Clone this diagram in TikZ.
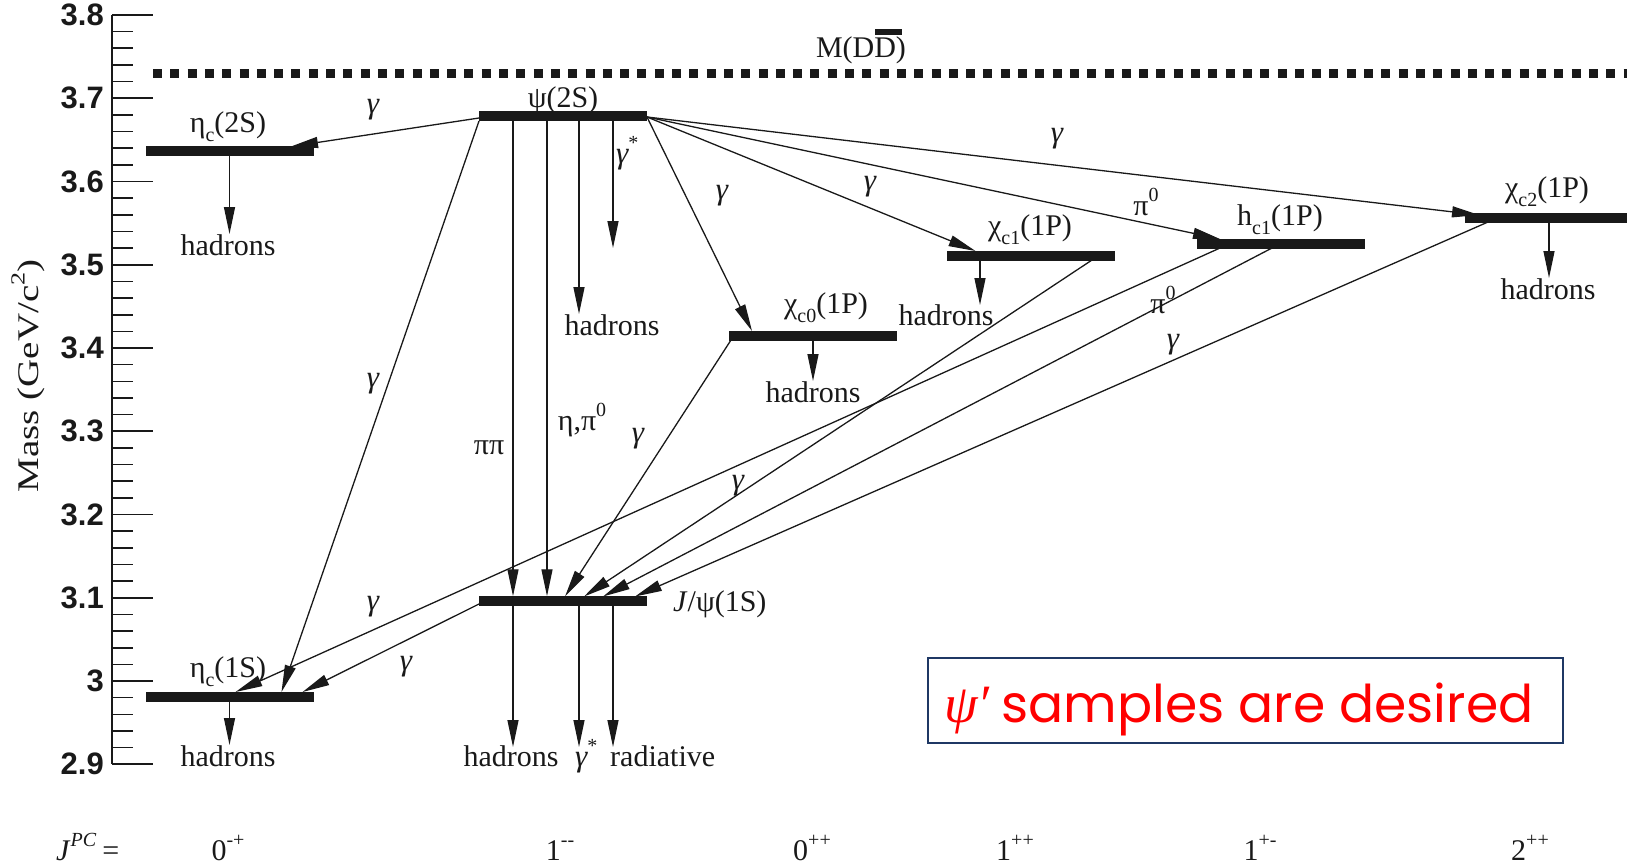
\documentclass[tikz,border=0pt]{standalone}
\usepackage{fontspec}
\usepackage{graphicx}
\setmainfont{Liberation Serif}
\newfontfamily\ticksf{Liberation Sans}
\newfontfamily\popf{Poppins}
\usetikzlibrary{arrows.meta}
\definecolor{boxblue}{RGB}{31,56,100}
\definecolor{ink}{RGB}{25,25,25}
\newcommand{\fs}[1]{\fontsize{#1}{#1}\selectfont}
\newcommand{\lsub}[1]{\raisebox{-0.3em}{\fs{20}#1}}
\newcommand{\lsup}[1]{\raisebox{0.45em}{\fs{20}#1}}
\begin{document}
\begin{tikzpicture}[x=1pt,y=-1pt,
  lvl/.style={fill=ink, inner sep=0pt, outer sep=0pt, minimum width=168pt, minimum height=9.5pt},
  conn/.style={line width=1.3pt, draw=ink, -{Triangle[length=27pt,width=11pt]}},
  lab/.style={inner sep=0pt, text=ink, font=\fs{30}},
  gl/.style={inner sep=0pt, text=ink, font=\fs{31}\itshape},
  ticklab/.style={inner sep=0pt, anchor=east, text=ink, font=\ticksf\bfseries\fs{31}},
  tickln/.style={line width=1.6pt, draw=ink}
]
\useasboundingbox (0,0) rectangle (1627,867);

% ---------- axis ----------
\draw[tickln] (112,15) -- (112,764.25);
\foreach \i in {0,...,45} {
  \pgfmathsetmacro{\yy}{15+\i*16.65}
  \pgfmathtruncatemacro{\mm}{mod(\i,5)}
  \ifnum\mm=0 \draw[tickln] (112,\yy) -- (153,\yy); \else \draw[tickln] (112,\yy) -- (133,\yy); \fi
}
\foreach \t [count=\k from 0] in {3.8,3.7,3.6,3.5,3.4,3.3,3.2,3.1,3,2.9} {
  \node[ticklab] (tick\k) at (104,15+\k*83.25) {\t};
}
\node[lab, rotate=90] (ylab) at (28,376) {\scalebox{1.3}[1]{Mass (GeV/c\lsup{2})}};

% ---------- threshold ----------
\draw[line width=8.5pt, draw=ink, dash pattern=on 9pt off 8.3pt] (153,73.5) -- (1627,73.5);
\node[lab, anchor=base] (mdd) at (861,58) {M(DD)};
\fill[ink] (875,29) rectangle (902,35);

% ---------- levels ----------
\node[lvl] (etac2S) at (229.5,151) {};
\node[lvl] (psi2S) at (563,116) {};
\node[lvl] (chic0) at (813,336) {};
\node[lvl] (chic1) at (1030.5,256) {};
\node[lvl] (hc1) at (1281,244) {};
\node[lvl] (chic2) at (1549,218) {};
\node[lvl] (jpsi) at (563,601) {};
\node[lvl] (etac1S) at (229.5,697) {};

\node[lab, anchor=base] (Letac2S) at (228,132) {η\lsub{c}(2S)};
\node[lab, anchor=base] (Lpsi2S) at (563,107) {ψ(2S)};
\node[lab, anchor=base] (Lchic0) at (826,313) {χ\lsub{c0}(1P)};
\node[lab, anchor=base] (Lchic1) at (1030,235) {χ\lsub{c1}(1P)};
\node[lab, anchor=base] (Lhc1) at (1280,225) {h\lsub{c1}(1P)};
\node[lab, anchor=base] (Lchic2) at (1547,197) {χ\lsub{c2}(1P)};
\node[lab, anchor=base west] (Ljpsi) at (673,611) {\textit{J}/ψ(1S)};
\node[lab, anchor=base] (Letac1S) at (228,677) {η\lsub{c}(1S)};

% ---------- decay product labels ----------
\node[lab, anchor=north] (hEtac2S) at (228,234) {hadrons};
\node[lab, anchor=north] (hPsi) at (612,314) {hadrons};
\node[lab, anchor=north] (hChic0) at (813,381) {hadrons};
\node[lab, anchor=north] (hChic1) at (946,304) {hadrons};
\node[lab, anchor=north] (hChic2) at (1548,278) {hadrons};
\node[lab, anchor=north] (hJpsi) at (511,745) {hadrons};
\node[lab, anchor=north] (hEtac1S) at (228,745) {hadrons};
\node[lab, anchor=base west] (gsJpsi) at (575,766) {{\fs{31}\itshape γ}\lsup{*}};
\node[lab, anchor=base west] (radJpsi) at (610,766) {radiative};
\node[lab, anchor=base west] (gsPsi) at (616,163) {{\fs{31}\itshape γ}\lsup{*}};

% ---------- named end points ----------
\coordinate (psiL) at (479,118);
\coordinate (psiLb) at (479,121);
\coordinate (psiR) at (647,117);
\coordinate (c0s) at (731,340);
\coordinate (c1s) at (1092,260);
\coordinate (h1a) at (1220,248);
\coordinate (h1b) at (1272,248);
\coordinate (c2s) at (1488,222);
\coordinate (jps) at (479,604);

\coordinate (tE2) at (291,146.5);
\coordinate (tE1psi) at (281.5,692);
\coordinate (tE1h) at (235.5,692);
\coordinate (tE1j) at (302.5,692);
\coordinate (tC0) at (752,331);
\coordinate (tC1) at (975.5,251);
\coordinate (tH1) at (1220,239);
\coordinate (tC2) at (1479,215);
\coordinate (tJc0) at (565,596.5);
\coordinate (tJc1) at (584,596.5);
\coordinate (tJh1) at (603,596.5);
\coordinate (tJc2) at (635,596.5);
\coordinate (tPsiG) at (613,248);
\coordinate (tChic1H) at (980,305);
\coordinate (tJH) at (513,747);
\coordinate (tJG) at (579,747);
\coordinate (tJR) at (613,747);

% ---------- transitions ----------
\draw[conn] (psiL) -- (tE2);
\draw[conn] (psiLb) -- (tE1psi);
\draw[conn] ([xshift=-50]psi2S.south) -- ([xshift=-50]jpsi.north);
\draw[conn] ([xshift=-16]psi2S.south) -- ([xshift=-16]jpsi.north);
\draw[conn] ([xshift=16]psi2S.south) -- ([xshift=16]psi2S.south |- hPsi.north);
\draw[conn] ([xshift=50]psi2S.south) -- (tPsiG);
\draw[conn] (psiR) -- (tC0);
\draw[conn] (psiR) -- (tC1);
\draw[conn] (psiR) -- (tH1);
\draw[conn] (psiR) -- (tC2);
\draw[conn] (c0s) -- (tJc0);
\draw[conn] (c1s) -- (tJc1);
\draw[conn] (h1a) -- (tE1h);
\draw[conn] (h1b) -- (tJh1);
\draw[conn] (c2s) -- (tJc2);
\draw[conn] (jps) -- (tE1j);

\draw[conn] (etac2S.south) -- (etac2S.south |- hEtac2S.north);
\draw[conn] (etac1S.south) -- (etac1S.south |- hEtac1S.north);
\draw[conn] (chic0.south) -- (chic0.south |- hChic0.north);
\draw[conn] ([xshift=-50.5]chic1.south) -- (tChic1H);
\draw[conn] (chic2.south) -- (chic2.south |- hChic2.north);
\draw[conn] ([xshift=-50]jpsi.south) -- (tJH);
\draw[conn] ([xshift=16]jpsi.south) -- (tJG);
\draw[conn] ([xshift=50]jpsi.south) -- (tJR);

% ---------- transition labels ----------
\node[gl] (g1) at (373,110) {γ};
\node[gl] (g2) at (373,384) {γ};
\node[lab] (pipi) at (489,448) {ππ};
\node[lab] (etapi) at (582,420) {η,π\lsup{0}};
\node[gl] (g3) at (722,196) {γ};
\node[gl] (g4) at (870,187) {γ};
\node[lab] (p1) at (1146,202) {π\lsup{0}};
\node[gl] (g5) at (1057,139) {γ};
\node[gl] (g6) at (638,439) {γ};
\node[gl] (g7) at (738,486) {γ};
\node[gl] (g8) at (373,607) {γ};
\node[lab] (p2) at (1163,300) {π\lsup{0}};
\node[gl] (g9) at (1173,345) {γ};
\node[gl] (g10) at (406,667) {γ};

% ---------- J^PC row ----------
\node[lab, anchor=base west] (jpc) at (56,860) {\textit{J}\lsup{\textit{PC}}\hspace{6pt}=};
\node[lab, anchor=base] (q1) at (228,860) {0\lsup{-+}};
\node[lab, anchor=base] (q2) at (560,860) {1\lsup{-{}-}};
\node[lab, anchor=base] (q3) at (812,860) {0\lsup{++}};
\node[lab, anchor=base] (q4) at (1015,860) {1\lsup{++}};
\node[lab, anchor=base] (q5) at (1260,860) {1\lsup{+-}};
\node[lab, anchor=base] (q6) at (1530,860) {2\lsup{++}};

% ---------- note box ----------
\node[draw=boxblue, line width=2.5pt, minimum width=635pt, minimum height=85pt, inner sep=0pt] (box) at (1245.5,700.5) {};
\node[anchor=base west, inner sep=0pt, text=red] (boxtxt) at (944,722) {\fs{54}\itshape ψ′\hspace{12pt}\upshape\popf\fs{52}samples are desired};
\end{tikzpicture}
\end{document}
